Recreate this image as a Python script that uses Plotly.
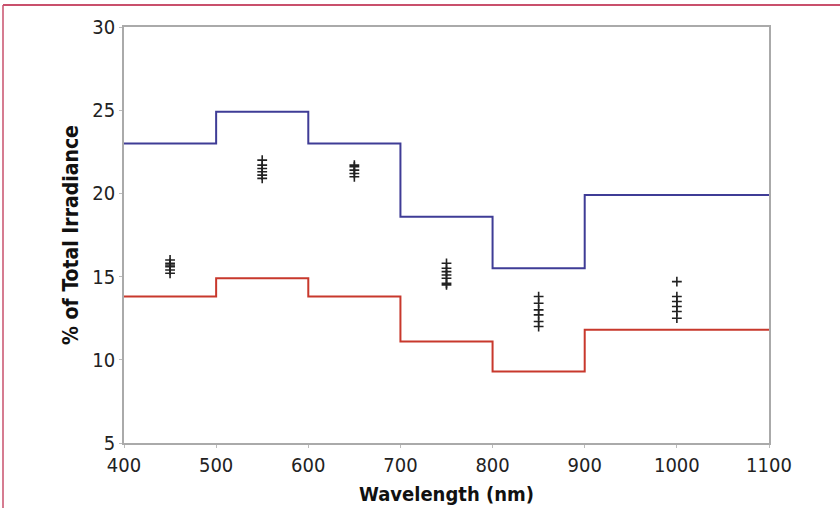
import plotly.graph_objects as go

# Data
edges = [400, 500, 600, 700, 800, 900, 1100]
upper = [23.0, 24.9, 23.0, 18.6, 15.5, 19.9, 19.9]
lower = [13.8, 14.9, 13.8, 11.1, 9.3, 11.8, 11.8]

scatter_x = ([450] * 6 + [550] * 6 + [650] * 5 + [750] * 7 + [850] * 6 + [1000] * 6)
scatter_y = ([16.0, 15.8, 15.7, 15.6, 15.4, 15.2] +
             [22.0, 21.7, 21.5, 21.3, 21.1, 20.9] +
             [21.7, 21.6, 21.4, 21.2, 21.0] +
             [15.8, 15.5, 15.3, 15.1, 14.9, 14.6, 14.5] +
             [13.8, 13.4, 13.0, 12.7, 12.3, 12.0] +
             [14.7, 13.8, 13.5, 13.2, 12.9, 12.5])

x_ticks = [400, 500, 600, 700, 800, 900, 1000, 1100]
y_ticks = [5, 10, 15, 20, 25, 30]

FONT = "Liberation Sans Narrow, Arial Narrow, DejaVu Sans Condensed, Liberation Sans, sans-serif"

fig = go.Figure()
fig.add_trace(go.Scatter(x=edges, y=upper, mode="lines", line_shape="hv",
                         line=dict(color="#3f3c96", width=2), showlegend=False))
fig.add_trace(go.Scatter(x=edges, y=lower, mode="lines", line_shape="hv",
                         line=dict(color="#c8382c", width=2), showlegend=False))
fig.add_trace(go.Scatter(x=scatter_x, y=scatter_y, mode="markers",
                         marker=dict(symbol="cross-thin", size=7, color="#222",
                                     line=dict(color="#222", width=1.6)),
                         showlegend=False))

W, H = 840, 508
L, R, T, B = 124, 71, 27, 65
pw, ph = W - L - R, H - T - B

def px2paper_x(px):
    return (px - L) / pw

def px2paper_y(py):
    return 1 - (py - T) / ph

border_color = "#c9506c"
fig.add_shape(type="line", xref="paper", yref="paper",
              x0=px2paper_x(3), x1=px2paper_x(W + 5), y0=px2paper_y(5), y1=px2paper_y(5),
              line=dict(color=border_color, width=2), layer="above")
fig.add_shape(type="line", xref="paper", yref="paper",
              x0=px2paper_x(3), x1=px2paper_x(3), y0=px2paper_y(5), y1=px2paper_y(H + 5),
              line=dict(color=border_color, width=1.5), layer="above")

fig.update_layout(
    width=W, height=H,
    margin=dict(l=L, r=R, t=T, b=B),
    paper_bgcolor="white", plot_bgcolor="white",
    font=dict(family=FONT, color="#222", size=20),
    xaxis=dict(range=[400, 1100], tickvals=x_ticks, ticktext=[str(v) for v in x_ticks],
               automargin=False,
               showgrid=False, zeroline=False, showline=True, linecolor="#aaaaaa",
               linewidth=1.5, mirror=True, ticks="outside", ticklen=3, tickcolor="#bbbbbb",
               tickfont=dict(size=20, family=FONT, color="#222"),
               title=dict(text="<b>Wavelength (nm)</b>", standoff=11,
                          font=dict(size=20, family=FONT, color="#111"))),
    yaxis=dict(range=[5, 30], tickvals=y_ticks, ticktext=[str(v) for v in y_ticks],
               automargin=False,
               showgrid=False, zeroline=False, showline=True, linecolor="#aaaaaa",
               linewidth=1.5, mirror=True, ticks="outside", ticklen=3, tickcolor="#bbbbbb",
               tickfont=dict(size=20, family=FONT, color="#222"),
               title=dict(text="<b>% of Total Irradiance</b>", standoff=8,
                          font=dict(size=21, family=FONT, color="#111"))),
)

fig.write_html("out.html", config={"displayModeBar": False},
               post_script="document.body.style.margin='0';document.body.style.overflow='hidden';")
